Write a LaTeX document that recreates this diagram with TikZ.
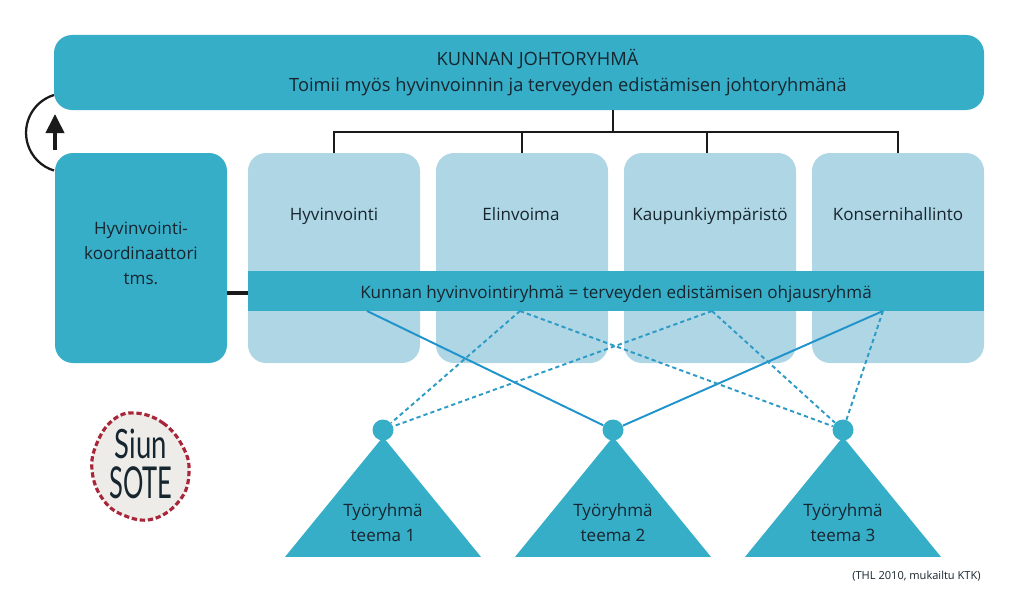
\documentclass[tikz,border=0pt]{standalone}
\usepackage{fontspec}
\setmainfont{Open Sans}
\newfontfamily\logofont{Lato}
\usetikzlibrary{shapes.geometric,arrows.meta}
\definecolor{tumma}{HTML}{36AEC8}
\definecolor{vaalea}{HTML}{AED6E4}
\definecolor{viiva}{HTML}{1E93CC}
\definecolor{katko}{HTML}{2E9BC6}
\definecolor{logopohja}{HTML}{EDECE8}
\definecolor{logopuna}{HTML}{A8263A}
\definecolor{musta}{HTML}{1A1A1A}
\definecolor{teksti}{HTML}{17252E}
\begin{document}
\begin{tikzpicture}[font=\fontsize{9.7}{14.3}\selectfont, text=teksti,
  tumma laatikko/.style={fill=tumma, rounded corners=0.36cm, inner sep=0pt},
  vaalea laatikko/.style={fill=vaalea, rounded corners=0.36cm, inner sep=0pt, minimum width=3.44cm, minimum height=4.2cm},
  otsikko/.style={inner sep=0pt, align=center},
  yksirivi/.style={otsikko, text height=1.7ex, text depth=0.5ex},
  suuri/.style={yksirivi, font=\fontsize{10.4}{14}\selectfont},
  haara/.style={draw=musta, line width=1.6pt},
  kiintea/.style={draw=viiva, line width=1.1pt},
  katkoviiva/.style={draw=katko, line width=1.1pt, dash pattern=on 2.4pt off 1.8pt},
  pallo/.style={circle, fill=tumma, minimum size=0.42cm, inner sep=0pt},
  kolmio/.style={isosceles triangle, isosceles triangle stretches, shape border rotate=90, fill=tumma,
    minimum width=3.92cm, minimum height=2.4cm, inner sep=0pt, anchor=apex},
]
  % pikselit / 50 = cm, y alaspain
  \useasboundingbox (0,0) rectangle (20.48,-11.98);

  \node[tumma laatikko, minimum width=18.6cm, minimum height=1.5cm] (johto) at (10.38,-1.45) {};
  \node[suuri] (johtoa) at (10.75,-1.19) {KUNNAN JOHTORYHMÄ};
  \node[suuri] (johtob) at (11.36,-1.71) {Toimii myös hyvinvoinnin ja terveyden edistämisen johtoryhmänä};

  \node[tumma laatikko, minimum width=3.44cm, minimum height=4.2cm] (koord) at (2.82,-5.16) {};
  \node[otsikko] (koordt) at (2.82,-5.06) {Hyvinvointi-\\koordinaattori\\tms.};

  \node[vaalea laatikko] (hyv) at (6.68,-5.16) {};
  \node[vaalea laatikko] (eli) at (10.44,-5.16) {};
  \node[vaalea laatikko] (kau) at (14.20,-5.16) {};
  \node[vaalea laatikko] (kon) at (17.96,-5.16) {};
  \node[yksirivi] (hyvt) at (6.68,-4.30) {Hyvinvointi};
  \node[yksirivi] (elit) at (10.42,-4.30) {Elinvoima};
  \node[yksirivi] (kaut) at (14.20,-4.30) {Kaupunkiympäristö};
  \node[yksirivi] (kont) at (17.96,-4.30) {Konsernihallinto};

  \node[fill=tumma, inner sep=0pt, minimum width=14.72cm, minimum height=0.8cm] (ryhma) at (12.32,-5.82) {};
  \node[yksirivi] (ryhmat) at (12.32,-5.85) {Kunnan hyvinvointiryhmä = terveyden edistämisen ohjausryhmä};

  % haarukka johtoryhmasta alas
  \coordinate (haarat) at (12.26,-2.64);
  \draw[haara] (johto.south -| haarat) -- (haarat);
  \draw[haara] (haarat) -| (hyv.north);
  \draw[haara] (haarat) -| (eli.north);
  \draw[haara] (haarat) -| ([xshift=-0.06cm]kau.north);
  \draw[haara] (haarat) -| (kon.north);
  \draw[haara, line width=2pt] ([yshift=-0.04cm]ryhma.west) -- ([yshift=-0.04cm]ryhma.west -| koord.east);

  % kaari ja nuoli
  \coordinate (kaarialku) at (1.08,-1.90);
  \coordinate (nuolia) at (1.10,-3.00);
  \coordinate (nuolib) at (1.10,-2.28);
  \draw[draw=musta, line width=1.3pt] (kaarialku) arc[start angle=107, end angle=253, radius=0.79];
  \draw[draw=musta, line width=2.2pt, -{Triangle[length=0.38cm, width=0.36cm]}] (nuolia) -- (nuolib);

  % tyoryhmat
  \foreach \n/\x/\t in {a/7.66/1,b/12.26/2,c/16.86/3} {
    \node[kolmio] (kolmio\n) at (\x,-8.72) {};
    \node[pallo] (pallo\n) at (\x,-8.60) {};
    \node[otsikko] (teema\n) at (\x,-10.45) {Työryhmä\\teema \t};
  }

  % viivat ryhmasta palloihin
  \coordinate (ala) at (7.34,-6.22);
  \coordinate (alb) at (10.40,-6.22);
  \coordinate (alc) at (14.24,-6.22);
  \coordinate (ald) at (17.66,-6.22);
  \draw[kiintea] (ala) -- (pallob);
  \draw[kiintea] (ald) -- (pallob);
  \draw[katkoviiva] (alb) -- (palloa);
  \draw[katkoviiva] (alb) -- (palloc);
  \draw[katkoviiva] (alc) -- (palloa);
  \draw[katkoviiva] (alc) -- (palloc);
  \draw[katkoviiva] (ald) -- (palloc);

  % logo
  \draw[fill=logopohja, draw=logopuna, line width=1.8pt, dash pattern=on 3pt off 1.6pt]
    plot[smooth cycle, tension=0.7] coordinates {(2.70,-8.26) (3.26,-8.46) (3.66,-8.94) (3.78,-9.46) (3.60,-10.00)
      (3.06,-10.38) (2.46,-10.30) (2.04,-9.96) (1.84,-9.40) (1.94,-8.86) (2.26,-8.40)};
  \node[otsikko] (logoa) at (2.82,-8.88) {\logofont\scalebox{0.68}[1]{\fontsize{23}{23}\selectfont Siun}};
  \node[otsikko] (logob) at (2.82,-9.65) {\logofont\scalebox{0.58}[1]{\fontsize{25}{25}\selectfont SOTE}};

  \node[inner sep=0pt, anchor=east, font=\fontsize{6.3}{8}\selectfont] (lahde) at (19.62,-11.53) {(THL 2010, mukailtu KTK)};
\end{tikzpicture}
\end{document}
